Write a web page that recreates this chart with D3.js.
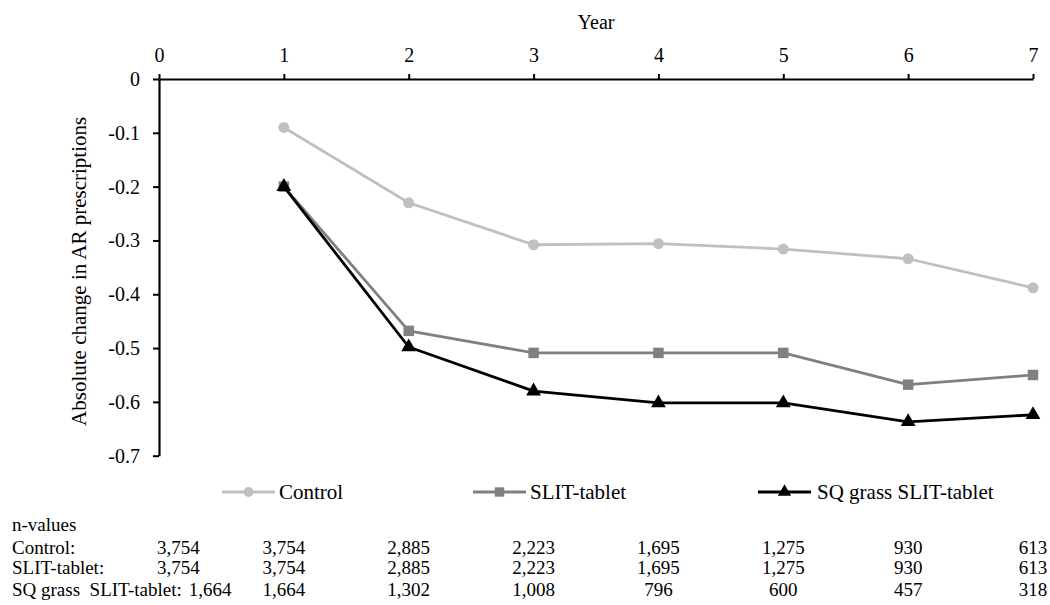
<!DOCTYPE html>
<html>
<head>
<meta charset="utf-8">
<script src="https://cdn.jsdelivr.net/npm/d3@7"></script>
<style>
  html, body { margin: 0; padding: 0; background: #fff; }
  svg { display: block; font-family: "Liberation Serif", "Times New Roman", serif; }
  svg text { font-family: "Liberation Serif", "Times New Roman", serif; }
</style>
</head>
<body>
<svg id="chart" width="1050" height="605"></svg>
<script>
// ---- data ----
const years = [1, 2, 3, 4, 5, 6, 7];
const xTicks = [0, 1, 2, 3, 4, 5, 6, 7];
const yTicks = [0, -0.1, -0.2, -0.3, -0.4, -0.5, -0.6, -0.7];
const seriesNames = ["Control", "SLIT-tablet", "SQ grass SLIT-tablet"];
const controlValues = [-0.09, -0.23, -0.308, -0.306, -0.316, -0.334, -0.388];
const slitValues = [-0.2, -0.468, -0.509, -0.509, -0.509, -0.568, -0.55];
const sqValues = [-0.2, -0.498, -0.58, -0.602, -0.602, -0.637, -0.624];
const tableLabels = ["Control:", "SLIT-tablet:", "SQ grass\u00a0 SLIT-tablet:"];
const nControl = ["3,754", "3,754", "2,885", "2,223", "1,695", "1,275", "930", "613"];
const nSlit = ["3,754", "3,754", "2,885", "2,223", "1,695", "1,275", "930", "613"];
const nSq = ["1,664", "1,664", "1,302", "1,008", "796", "600", "457", "318"];

const svg = d3.select("#chart");
const x = d3.scaleLinear().domain([0, 7]).range([159, 1033]);
const y = d3.scaleLinear().domain([-0.7, 0]).range([455.7, 79]);

const styles = [
  { color: "#c0c0c0", symbol: d3.symbolCircle, size: 95 },
  { color: "#808080", symbol: d3.symbolSquare, size: 110 },
  { color: "#000000", symbol: d3.symbolTriangle, size: 95 }
];
const allSeries = [controlValues, slitValues, sqValues];

// ---- axes ----
const xAxis = d3.axisTop(x).tickValues(xTicks).tickFormat(d3.format("d"))
  .tickSize(5).tickSizeOuter(0).tickPadding(12);
const gx = svg.append("g").attr("transform", `translate(0,${y(0)})`).call(xAxis);
gx.attr("font-family", null);
gx.select(".domain").attr("stroke-width", 2.2);
gx.selectAll(".tick line").attr("stroke-width", 2);
gx.selectAll(".tick text").attr("font-size", 20).attr("fill", "#000");

const yAxis = d3.axisLeft(y).tickValues(yTicks)
  .tickFormat(d => d === 0 ? "0" : d.toFixed(1))
  .tickSize(6).tickSizeOuter(0).tickPadding(13);
const gy = svg.append("g").attr("transform", `translate(${x(0)},0)`).call(yAxis);
gy.attr("font-family", null);
gy.select(".domain").attr("stroke-width", 2.2);
gy.selectAll(".tick line").attr("stroke-width", 2);
gy.selectAll(".tick text").attr("font-size", 20).attr("fill", "#000");

svg.append("text").attr("x", (x(0) + x(7)) / 2).attr("y", 29)
  .attr("text-anchor", "middle").attr("font-size", 20).text("Year");

svg.append("text")
  .attr("transform", `translate(86,${(y(0) + y(-0.7)) / 2 + 4}) rotate(-90)`)
  .attr("text-anchor", "middle").attr("font-size", 21)
  .text("Absolute change in AR prescriptions");

// ---- lines & markers ----
const line = d3.line().x((d, i) => x(years[i])).y(d => y(d));
allSeries.forEach((vals, si) => {
  const st = styles[si];
  svg.append("path").datum(vals).attr("d", line)
    .attr("fill", "none").attr("stroke", st.color).attr("stroke-width", 2.8)
    .attr("stroke-linejoin", "round");
  svg.append("g").selectAll("path").data(vals).join("path")
    .attr("d", d3.symbol().type(st.symbol).size(st.size))
    .attr("transform", (d, i) => `translate(${x(years[i])},${y(d)})`)
    .attr("fill", st.color);
});

// ---- legend ----
const legendItems = [
  { lx: 222, tx: 279 },
  { lx: 473, tx: 530 },
  { lx: 758, tx: 817 }
];
const ly = 492;
seriesNames.forEach((name, si) => {
  const st = styles[si];
  const li = legendItems[si];
  const g = svg.append("g");
  g.append("line").attr("x1", li.lx).attr("x2", li.lx + 53).attr("y1", ly).attr("y2", ly)
    .attr("stroke", st.color).attr("stroke-width", 2.8);
  g.append("path").attr("d", d3.symbol().type(st.symbol).size(st.size * 0.8))
    .attr("transform", `translate(${li.lx + 26.5},${ly})`).attr("fill", st.color);
  g.append("text").attr("x", li.tx).attr("y", ly).attr("dy", "0.35em")
    .attr("font-size", 21).text(name);
});

// ---- n-values table ----
svg.append("text").attr("x", 12).attr("y", 524).attr("dy", "0.35em")
  .attr("font-size", 19).text("n-values");
const rowsY = [547, 567, 589];
[nControl, nSlit, nSq].forEach((vals, ri) => {
  const lab = svg.append("text").attr("x", 12).attr("y", rowsY[ri]).attr("dy", "0.35em")
    .attr("font-size", 19).text(tableLabels[ri]);
  const labEnd = 12 + lab.node().getComputedTextLength();
  vals.forEach((v, ci) => {
    if (ci === 0) {
      svg.append("text").attr("x", Math.max(x(0) - 2, labEnd + 7)).attr("y", rowsY[ri])
        .attr("dy", "0.35em").attr("font-size", 19).attr("text-anchor", "start").text(v);
    } else {
      svg.append("text").attr("x", x(xTicks[ci])).attr("y", rowsY[ri])
        .attr("dy", "0.35em").attr("font-size", 19).attr("text-anchor", "middle").text(v);
    }
  });
});
</script>
</body>
</html>
